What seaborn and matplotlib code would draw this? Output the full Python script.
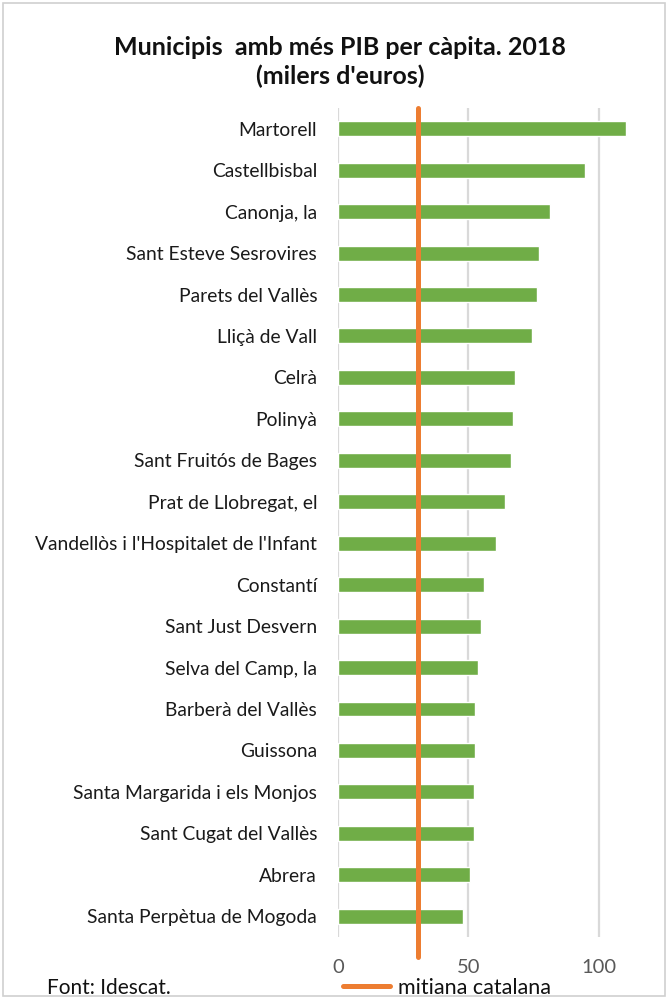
import numpy as np
import pandas as pd
import matplotlib
matplotlib.use("Agg")
import matplotlib.pyplot as plt
import seaborn as sns
from matplotlib.patches import Rectangle

# data (milers d'euros)
municipis = [
    "Martorell", "Castellbisbal", "Canonja, la", "Sant Esteve Sesrovires",
    "Parets del Vallès", "Lliçà de Vall", "Celrà", "Polinyà",
    "Sant Fruitós de Bages", "Prat de Llobregat, el",
    "Vandellòs i l'Hospitalet de l'Infant", "Constantí", "Sant Just Desvern",
    "Selva del Camp, la", "Barberà del Vallès", "Guissona",
    "Santa Margarida i els Monjos", "Sant Cugat del Vallès", "Abrera",
    "Santa Perpètua de Mogoda",
]
pib = [110.5, 94.5, 81.1, 76.9, 76.4, 74.5, 68.0, 67.2, 66.4, 64.1,
       60.4, 55.8, 54.9, 53.5, 52.6, 52.6, 52.2, 52.2, 50.7, 48.1]
mitjana_catalana = 30.5
x_ticks = [0, 50, 100]

title = "Municipis  amb més PIB per càpita. 2018\n(milers d'euros)"
font_note = "Font: Idescat."
legend_label = "mitiana catalana"

GREEN = "#70AD47"
ORANGE = "#ED7D31"
GRID = "#D9D9D9"

sns.set_theme(style="white")
plt.rcParams['font.family'] = ['Lato', 'DejaVu Sans']

df = pd.DataFrame({"Municipi": municipis, "PIB": pib})

fig = plt.figure(figsize=(6.68, 9.99), dpi=100)
ax = fig.add_axes([0.506, 0.0621, 0.4686, 0.8298])

sns.barplot(data=df, x="PIB", y="Municipi", color=GREEN, width=0.36,
            saturation=1, orient="h", ax=ax, zorder=2)

ax.set_xlim(0, 120)
ax.set_ylim(len(municipis) - 0.5, -0.5)
ax.set_xticks(x_ticks)
ax.set_xticklabels([str(t) for t in x_ticks])
for t in x_ticks:
    ax.axvline(t, color=GRID, lw=1.6, zorder=1)

# Catalan average as a vertical line running a bit below the plot
ax.axvline(mitjana_catalana, ymin=-0.024, ymax=1, color=ORANGE, lw=3.6,
           clip_on=False, zorder=3, label=legend_label)

for s in ax.spines.values():
    s.set_visible(False)
ax.tick_params(axis="x", length=0, pad=16, labelsize=14.5, labelcolor="#595959")
ax.tick_params(axis="y", length=0, pad=15, labelsize=13.9, labelcolor="#1a1a1a")
ax.set_xlabel("")
ax.set_ylabel("")

fig.text(0.509, 0.938, title, ha="center", va="center", fontsize=18,
         fontweight="bold", color="#111111", linespacing=1.25)
fig.text(0.07, 0.011, font_note, ha="left", va="center", fontsize=15,
         color="#111111")

fig.legend(loc="center left", bbox_to_anchor=(0.497, 0.011), frameon=False,
           fontsize=15.5, handlelength=2.2, handletextpad=0.35, borderpad=0,
           labelcolor="#111111")

fig.patches.append(Rectangle((0.005, 0.003), 0.99, 0.994, transform=fig.transFigure,
                             fill=False, edgecolor="#D0D0D0", lw=1.2))

fig.savefig("out.png", dpi=100)
